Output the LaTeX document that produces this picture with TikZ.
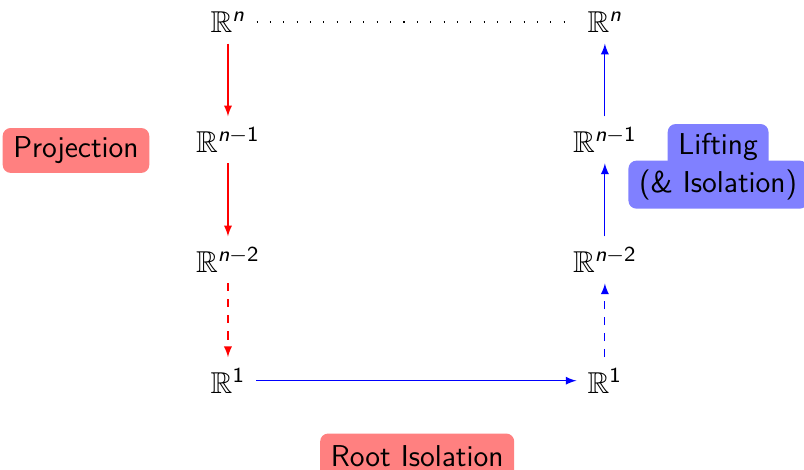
\documentclass[tikz,border=0pt]{standalone}
\usepackage{amsmath,amssymb}
\usepackage{tikz}
\usetikzlibrary{arrows, positioning}

\newcommand{\nsf}{\text{\sffamily\itshape n}}
\newcommand{\Rpow}[1]{$\mathbb{R}^{#1}$}
\newcommand{\midsize}{\fontsize{11.3}{13.6}\selectfont}

\begin{document}
\begin{tikzpicture}[
        space/.style={inner sep=4pt, font=\midsize},
        tagbox/.style={rectangle, rounded corners=3pt, inner xsep=4pt, minimum height=0.59cm, font=\sffamily\midsize, text=black},
        proj/.style={->, >=latex, red},
        lift/.style={->, >=latex, blue}
    ]
        \useasboundingbox (-3.0,-1.17) rectangle (7.58,5.01);

        % left column: projection
        \node[space] (ln) at (0,4.72) {\Rpow{\nsf}};
        \node[space] (ln1) at (0,3.17) {\Rpow{\nsf-\mathsf{1}}};
        \node[space] (ln2) at (0,1.59) {\Rpow{\nsf-\mathsf{2}}};
        \node[space] (l1) at (0,0) {\Rpow{\mathsf{1}}};

        % right column: lifting
        \node[space] (rn) at (4.96,4.72) {\Rpow{\nsf}};
        \node[space] (rn1) at (4.96,3.17) {\Rpow{\nsf-\mathsf{1}}};
        \node[space] (rn2) at (4.96,1.59) {\Rpow{\nsf-\mathsf{2}}};
        \node[space] (r1) at (4.96,0) {\Rpow{\mathsf{1}}};

        \draw[proj] (ln) -- (ln1);
        \draw[proj] (ln1) -- (ln2);
        \draw[proj, dashed] (ln2) -- (l1);
        \draw[lift] (l1) -- (r1);
        \draw[lift, dashed] (r1) -- (rn2);
        \draw[lift] (rn2) -- (rn1);
        \draw[lift] (rn1) -- (rn);
        \draw[dash pattern=on 0.4pt off 4.6pt] (ln) -- (rn);

        \node[tagbox, fill=red!50] (proj) at (-2.0,3.03) {Projection};
        \node[tagbox, fill=red!50] (root) at (2.49,-0.99) {Root Isolation};
        \node[tagbox, fill=blue!50] (lift) at (6.45,3.08) {Lifting};
        \node[tagbox, fill=blue!50] (iso) at (6.45,2.58) {(\& Isolation)};
    \end{tikzpicture}
\end{document}
